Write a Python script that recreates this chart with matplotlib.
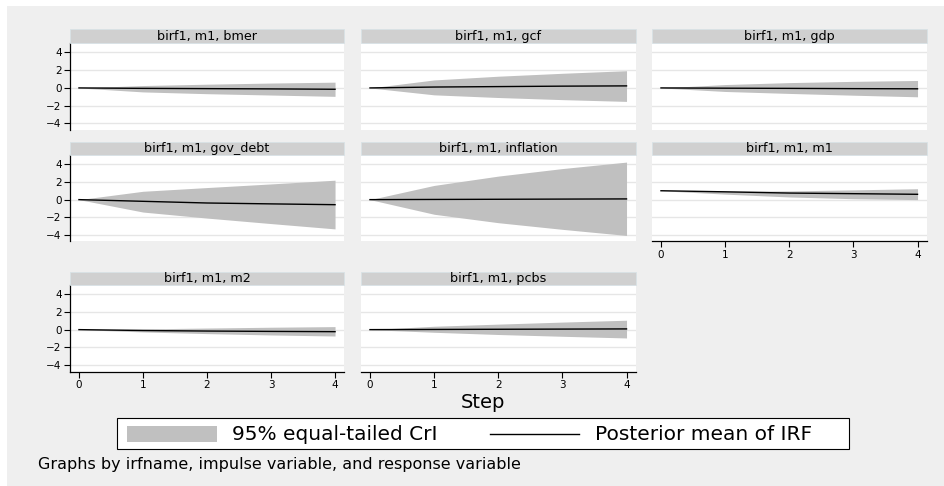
import matplotlib

matplotlib.use("Agg")

import matplotlib.pyplot as plt
from matplotlib.lines import Line2D
from matplotlib.patches import Rectangle

plt.rcParams["font.family"] = ["DejaVu Sans"]

W, H = 944, 486

STEPS = [0, 1, 2, 3, 4]
YTICKS = [-4, -2, 0, 2, 4]
IRF_NAME = "birf1"
IMPULSE = "m1"
RESPONSES = ["bmer", "gcf", "gdp", "gov_debt", "inflation", "m1", "m2", "pcbs"]

# posterior mean of IRF, one row per response
IRF_MEAN = [
    [0.0, -0.05, -0.08, -0.11, -0.15],
    [0.0, 0.10, 0.15, 0.20, 0.23],
    [0.0, -0.03, -0.05, -0.08, -0.10],
    [0.0, -0.19, -0.38, -0.48, -0.57],
    [0.0, 0.02, 0.04, 0.06, 0.08],
    [1.0, 0.88, 0.74, 0.67, 0.60],
    [0.0, -0.10, -0.16, -0.20, -0.23],
    [0.0, 0.02, 0.04, 0.06, 0.08],
]
# 95% equal-tailed credible interval
CRI_LOWER = [
    [0.0, -0.45, -0.65, -0.80, -0.95],
    [0.0, -0.78, -1.08, -1.32, -1.52],
    [0.0, -0.40, -0.62, -0.82, -1.00],
    [0.0, -1.40, -2.08, -2.70, -3.30],
    [0.0, -1.65, -2.60, -3.35, -4.04],
    [1.0, 0.62, 0.30, 0.10, 0.00],
    [0.0, -0.26, -0.45, -0.60, -0.72],
    [0.0, -0.30, -0.55, -0.75, -0.94],
]
CRI_UPPER = [
    [0.0, 0.27, 0.42, 0.55, 0.65],
    [0.0, 0.90, 1.32, 1.65, 1.94],
    [0.0, 0.38, 0.60, 0.74, 0.84],
    [0.0, 0.94, 1.36, 1.77, 2.19],
    [0.0, 1.60, 2.65, 3.50, 4.23],
    [1.0, 0.95, 0.98, 1.10, 1.23],
    [0.0, 0.08, 0.18, 0.27, 0.34],
    [0.0, 0.38, 0.62, 0.85, 1.06],
]

BG = "#EFEFEF"
BAND = "#C0C0C0"
HEADER = "#D0D0D0"
GRID = "#E6E6E6"

# panel layout in pixels
COL_X = [(70, 344), (361, 635.5), (652, 926.5)]
ROW_Y = [(29.5, 43.3, 129.8), (142.3, 155, 241.5), (271.5, 285, 371.5)]


def fig_box(x0, y0, x1, y1):
    return [x0 / W, 1 - y1 / H, (x1 - x0) / W, (y1 - y0) / H]


fig = plt.figure(figsize=(W / 100, H / 100), dpi=100)
fig.patch.set_facecolor("white")
fig.add_artist(Rectangle((7 / W, 0), 1 - 7 / W, 1 - 6 / H, transform=fig.transFigure,
                         facecolor=BG, edgecolor="none", zorder=-10))

n = len(RESPONSES)
for i, resp in enumerate(RESPONSES):
    r, c = divmod(i, 3)
    x0, x1 = COL_X[c]
    ht, hb, pb = ROW_Y[r]
    bottom_panel = (i + 3 >= n)

    ax = fig.add_axes(fig_box(x0, hb, x1, pb))
    ax.set_facecolor("white")
    ax.fill_between(STEPS, CRI_LOWER[i], CRI_UPPER[i], color=BAND, linewidth=0, zorder=2)
    ax.plot(STEPS, IRF_MEAN[i], color="black", linewidth=1.0, zorder=3)
    ax.set_xlim(-0.14, 4.14)
    ax.set_ylim(-4.72, 5.03)
    ax.set_yticks(YTICKS)
    ax.set_xticks(STEPS)
    ax.grid(axis="y", color=GRID, linewidth=1.0, zorder=0)
    ax.set_axisbelow(True)
    for side in ["top", "right", "left", "bottom"]:
        ax.spines[side].set_visible(False)
    ax.tick_params(axis="both", labelsize=7.5, length=4, width=0.8, pad=2, color="black")
    if c == 0:
        ax.spines["left"].set_visible(True)
        ax.spines["left"].set_linewidth(0.9)
    else:
        ax.tick_params(axis="y", left=False, labelleft=False)
    if bottom_panel:
        ax.spines["bottom"].set_visible(True)
        ax.spines["bottom"].set_linewidth(0.9)
    else:
        ax.tick_params(axis="x", bottom=False, labelbottom=False)

    # header strip
    fig.add_artist(Rectangle((x0 / W, 1 - hb / H), (x1 - x0) / W, (hb - ht) / H,
                             transform=fig.transFigure, facecolor=HEADER,
                             edgecolor="#D8E2E6", linewidth=0.6))
    fig.text((x0 + x1) / 2 / W, 1 - (ht + hb) / 2 / H, f"{IRF_NAME}, {IMPULSE}, {resp}",
             ha="center", va="center", fontsize=9.2)

fig.text(483 / W, 1 - 403 / H, "Step", ha="center", va="center", fontsize=14)

# legend
fig.add_artist(Rectangle((117 / W, 1 - 449 / H), (849 - 117) / W, 31 / H,
                         transform=fig.transFigure, facecolor="white",
                         edgecolor="black", linewidth=0.8))
fig.add_artist(Rectangle((127 / W, 1 - 442 / H), 90 / W, 16 / H,
                         transform=fig.transFigure, facecolor=BAND, edgecolor="none"))
fig.text(232 / W, 1 - 434 / H, "95% equal-tailed CrI", ha="left", va="center", fontsize=14.5)
fig.add_artist(Line2D([490 / W, 579 / W], [1 - 434 / H, 1 - 434 / H],
                      transform=fig.transFigure, color="black", linewidth=1.0))
fig.text(595 / W, 1 - 434 / H, "Posterior mean of IRF", ha="left", va="center", fontsize=14.5)

fig.text(38 / W, 1 - 464 / H, "Graphs by irfname, impulse variable, and response variable",
         ha="left", va="center", fontsize=11.5)

fig.savefig("out.png", dpi=100, facecolor=fig.get_facecolor())
